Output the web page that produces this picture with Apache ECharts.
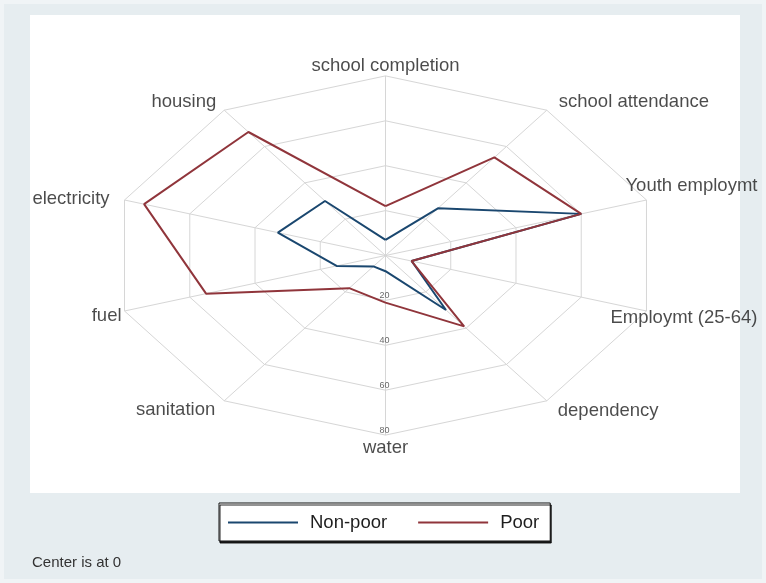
<!DOCTYPE html>
<html>
<head>
<meta charset="utf-8">
<script src="https://cdn.jsdelivr.net/npm/echarts@6/dist/echarts.min.js"></script>
<style>
html,body{margin:0;padding:0;background:#e6edf0;}
#chart{width:766px;height:583px;}
</style>
</head>
<body>
<div id="chart"></div>
<script>
// ---- data ----
const categories = ['school completion','school attendance','Youth employmt','Employmt (25-64)','dependency','water','sanitation','fuel','electricity','housing'];
const nonPoor = [7, 26, 60, 8, 30, 7, 6, 15, 33, 30];
const poor    = [22, 54, 60, 8, 39, 21, 18, 55, 74, 68];
const ringTicks = [20, 40, 60, 80];
const seriesNames = ['Non-poor', 'Poor'];
const noteText = 'Center is at 0';

// ---- layout / style ----
const outerValue = 80;
const colors = ['#1a476f', '#90353b'];
const gridColor = '#d6d6d6';
const font = '"Liberation Sans", Arial, Helvetica, sans-serif';
// label placement relative to the outer end of each spoke: [align, dx, dy]
const labelPlace = [
  ['center', 0, -10],
  ['left', 12, -8],
  ['left', -21, -14],
  ['left', -36, 7],
  ['left', 11, 10],
  ['center', 0, 13],
  ['right', -9, 9],
  ['right', -3, 5],
  ['right', -15, -1],
  ['right', -8, -8]
];

function pt(v, i) {
  const a = (90 - i * 36) * Math.PI / 180;
  return [v * Math.cos(a), v * Math.sin(a)];
}
function polygon(vals) {
  const d = vals.map((v, i) => pt(v, i));
  d.push(d[0]);
  return d;
}

const series = [];
// spokes
categories.forEach((c, i) => {
  series.push({
    type: 'line', silent: true, symbol: 'none', z: 1,
    data: [[0, 0], pt(outerValue, i)],
    lineStyle: { color: gridColor, width: 1 }
  });
});
// rings
ringTicks.forEach(t => {
  series.push({
    type: 'line', silent: true, symbol: 'none', z: 1,
    data: polygon(categories.map(() => t)),
    lineStyle: { color: gridColor, width: 1 }
  });
});
// data series
[nonPoor, poor].forEach((vals, k) => {
  series.push({
    name: seriesNames[k], type: 'line', symbol: 'none', z: 5 + k,
    data: polygon(vals),
    color: colors[k],
    lineStyle: { color: colors[k], width: 2 }
  });
});
// tick labels along water spoke
const waterIdx = categories.indexOf('water');
series.push({
  type: 'scatter', silent: true, symbolSize: 0, z: 4,
  data: ringTicks.map(t => ({ value: pt(t, waterIdx), name: String(t) })),
  label: {
    show: true, position: 'inside', offset: [-1, -5],
    formatter: p => p.name, fontSize: 9, color: '#444', fontFamily: font
  }
});
// category labels
series.push({
  type: 'scatter', silent: true, symbolSize: 0, z: 4,
  data: categories.map((c, i) => ({
    value: pt(outerValue, i), name: c,
    label: { align: labelPlace[i][0], offset: [labelPlace[i][1], labelPlace[i][2]] }
  })),
  label: {
    show: true, position: 'inside', verticalAlign: 'middle',
    formatter: p => p.name, fontSize: 18.5, color: '#1e1e1e', fontFamily: font
  }
});

// axis scales: center at (385.5, 255.5), 3.43 px/unit horizontally, 2.245 px/unit vertically
const gl = 30, gt = 15, gw = 710, gh = 478, cx = 385.5, cy = 255.5, sx = 3.43, sy = 2.245;

const chart = echarts.init(document.getElementById('chart'), null, { renderer: 'canvas' });
chart.setOption({
  animation: false,
  backgroundColor: '#e6edf0',
  grid: { left: gl, top: gt, width: gw, height: gh, show: true, backgroundColor: '#ffffff', borderWidth: 0 },
  xAxis: { type: 'value', min: -(cx - gl) / sx, max: (gl + gw - cx) / sx, show: false },
  yAxis: { type: 'value', min: -(gt + gh - cy) / sy, max: (cy - gt) / sy, show: false },
  legend: {
    data: seriesNames, left: 219, top: 503,
    icon: 'rect', itemWidth: 70, itemHeight: 2, itemGap: 31,
    padding: [10, 11, 9, 9],
    backgroundColor: '#ffffff', borderColor: '#111', borderWidth: 1,
    shadowColor: 'rgba(0,0,0,0.85)', shadowOffsetX: 1, shadowOffsetY: 2, shadowBlur: 0,
    textStyle: { fontSize: 18.5, color: '#1e1e1e', fontFamily: font, padding: [0, 0, 0, 7] }
  },
  graphic: [
    { type: 'rect', silent: true, z: -10, shape: { x: 0, y: 0, width: 766, height: 583 },
      style: { fill: 'none', stroke: '#f0f4f6', lineWidth: 8 } },
    { type: 'text', left: 32, top: 555, style: { text: noteText, fontSize: 15, fill: '#333', fontFamily: font } }
  ],
  series: series
});
</script>
</body>
</html>
